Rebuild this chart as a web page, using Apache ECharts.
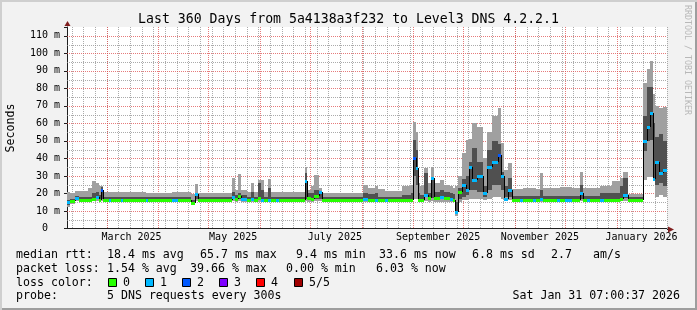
<!DOCTYPE html>
<html>
<head>
<meta charset="utf-8">
<script src="https://cdn.jsdelivr.net/npm/echarts@6/dist/echarts.min.js"></script>
<style>
  html, body { margin: 0; padding: 0; background: #f2f2f2; }
  #frame {
    position: relative; width: 697px; height: 310px; background: #f2f2f2;
    box-shadow: inset 2px 2px 0 #cfcfcf, inset -2px -2px 0 #9e9e9e;
  }
  #main { position: absolute; left: 0; top: 0; width: 697px; height: 310px; }
</style>
</head>
<body>
<div id="frame"><div id="main"></div></div>
<script>
// days since graph start (Feb 5 2025 07:00) where each sample bin begins
const binStart = [
  0, 1.8, 4.8, 7.2, 12.6, 15, 17.4, 19.2, 20.4, 21.6,
  25.2, 26.4, 32.4, 33.6, 47.4, 48.6, 63, 66.6, 74.4, 76.8,
  78.6, 99, 100.8, 102.6, 104.4, 108, 110.4, 112.2, 114.6, 116.4,
  118.2, 120.6, 122.4, 125.4, 127.2, 142.8, 144, 146.4, 148.2, 151.2,
  153, 177.6, 180.6, 184.8, 186.6, 190.8, 192.6, 201, 206.4, 207.6,
  209.4, 210.6, 211.8, 214.2, 216.6, 218.4, 220.2, 223.8, 226.2, 229.8,
  231.6, 232.8, 234.6, 237, 239.4, 241.2, 243, 246, 249.6, 252,
  255, 258.6, 260.4, 262.2, 264.6, 267, 271.8, 273.6, 279.6, 281.4,
  283.8, 285.6, 294, 295.8, 298.8, 303, 307.8, 309.6, 312, 313.8,
  319.8, 322.2, 327, 331.8, 333.6, 336.6, 345.6, 348, 349.8, 351.6,
  352.8, 355.2, 357.6
];
// smoke: fastest ping, 2nd, 4th, slowest (ms)
const smokeMin = [
  12.5, 14, 15.5, 15.4, 15.4, 15.6, 15.8, 15.4, 15.8, 15.4,
  15.4, 15.4, 15.4, 15.4, 15.4, 15.4, 15.4, 15.4, 13.8, 15.6,
  15.4, 15.6, 15.4, 15.6, 15.4, 15.4, 15.4, 15.4, 15.4, 15.4,
  15.4, 15.4, 15.4, 15.4, 15.4, 15.6, 15.4, 15.4, 15.6, 15.6,
  15.4, 15.4, 15.4, 15.4, 15.4, 15.4, 15.4, 15.4, 15.4, 17,
  17, 15.4, 15.4, 15.8, 15.4, 15.6, 15.4, 15.4, 15.4, 15.4,
  15.4, 7, 15, 16, 16, 17, 17, 17, 16, 17,
  18, 18, 17, 16, 16, 15.4, 15.4, 15.4, 15.4, 15.4,
  15.4, 15.4, 15.4, 15.4, 15.4, 15.4, 15.6, 15.4, 15.4, 15.4,
  15.4, 15.4, 15.4, 15.6, 15.8, 15.4, 27.7, 29.6, 29.6, 27,
  18, 19, 18
];
const smokeLow = [
  13.5, 15, 16.5, 16.6, 16.6, 16.8, 17, 16.6, 17, 16.6,
  16.6, 16.6, 16.6, 16.6, 16.6, 16.6, 16.6, 16.6, 14.5, 17,
  16.6, 17, 16.6, 17, 16.6, 16.6, 16.6, 16.6, 16.6, 16.6,
  16.6, 16.6, 16.6, 16.6, 16.6, 17, 16.6, 16.6, 17, 17,
  16.6, 16.6, 16.6, 16.6, 16.6, 16.6, 16.6, 16.6, 16.6, 30,
  25, 16.6, 16.6, 18, 16.6, 17.5, 16.6, 16.6, 16.6, 16.6,
  16.6, 8.5, 17, 18, 19, 22, 22, 21, 18, 22,
  25, 25, 22, 18, 18, 16.6, 16.6, 16.6, 16.6, 16.6,
  16.6, 16.6, 16.6, 16.6, 16.6, 16.6, 17, 16.6, 16.6, 16.6,
  16.6, 16.6, 16.6, 17, 17.5, 16.6, 44, 50, 50.5, 27.7,
  25, 26, 24
];
const smokeHigh = [
  16, 17, 18.5, 17.7, 18.2, 20, 21, 19, 23.5, 17.7,
  17.7, 17.7, 17.7, 17.7, 17.7, 17.7, 18, 17.7, 16.5, 20,
  17.7, 21, 19, 20.5, 19, 17.7, 21, 17.7, 26, 22,
  18.2, 23, 18.2, 17.7, 17.7, 31.5, 20.5, 20, 22, 21.5,
  17.7, 20.5, 19.5, 20, 18.2, 18.2, 18, 19, 20, 50.5,
  45, 20, 19, 31.5, 20, 29.6, 21, 22, 21, 20,
  19.5, 15, 23, 28, 30, 38, 46, 38, 24, 45,
  50, 48, 32, 24, 28.8, 18.5, 18.5, 18.5, 18.5, 18.5,
  22, 18.5, 18.5, 18.5, 18.5, 18.5, 25, 18.5, 18.5, 18.5,
  20, 20, 20.5, 24, 28.8, 17.7, 64, 81, 81, 60,
  52, 54, 50
];
const smokeMax = [
  21, 20.5, 21.5, 21.3, 23, 27, 26, 24, 24.5, 20.8,
  20.8, 20.6, 20.6, 20.7, 20.5, 20.5, 21, 20.6, 19.8, 25.3,
  20.5, 29, 22, 31, 22, 20.8, 26, 20.8, 27.7, 27.7,
  21, 28, 21, 20.8, 20.6, 35.3, 22, 24, 30.5, 23,
  20.5, 25, 23, 24, 22.5, 21.5, 21.5, 24.5, 25, 61,
  55, 26, 24, 34.4, 26, 35.3, 26, 27.5, 25, 24,
  23, 24, 30, 43, 50.5, 51, 60, 58, 40, 55,
  64, 68.6, 49, 33.5, 37.4, 22.5, 22.5, 23, 23, 22.5,
  31.5, 23, 23, 23.5, 23.5, 23, 32, 23, 23, 23,
  24, 24, 27, 29, 32.5, 19.8, 83, 91, 95.5, 77,
  70, 69, 69.5
];
const median = [
  15, 15.5, 17.5, 16.5, 16.5, 17, 18, 16.5, 22, 16.3,
  16.3, 16.3, 16.3, 16.3, 16.3, 16.3, 16.4, 16.3, 14.8, 19.5,
  16.3, 17.7, 17, 18.5, 17, 16.3, 16.8, 16.3, 17.5, 16.5,
  16.3, 16.5, 16.3, 16.3, 16.3, 27, 17.5, 17, 18.5, 21,
  16.3, 16.8, 16.3, 16.5, 16.3, 16.3, 16.3, 16.3, 16.5, 40,
  34.4, 16.5, 16.5, 19.2, 17.3, 28.7, 17.3, 18, 17.3, 17,
  16.5, 9.5, 21, 24.9, 22, 35.3, 27.7, 30, 20, 35,
  38, 42, 30, 17, 22, 16.5, 16.5, 16.5, 16.5, 16.5,
  17, 16.5, 16.5, 16.5, 16.5, 16.5, 20, 16.5, 16.5, 16.5,
  16.3, 16.3, 16.5, 17, 19, 16.3, 50, 58, 65.7, 28,
  38, 31.6, 33.6
];
// lost pings out of 5
const loss = [
  1, 0, 1, 0, 0, 0, 1, 0, 2, 0,
  1, 0, 1, 0, 1, 0, 1, 0, 0, 1,
  0, 1, 0, 0, 1, 0, 1, 0, 0, 1,
  0, 1, 0, 1, 0, 1, 0, 0, 0, 1,
  0, 1, 0, 1, 0, 1, 0, 0, 0, 2,
  1, 0, 0, 1, 0, 1, 0, 1, 0, 1,
  0, 1, 0, 1, 1, 1, 1, 1, 1, 1,
  1, 2, 1, 1, 1, 0, 1, 0, 1, 0,
  1, 0, 1, 0, 1, 0, 1, 0, 1, 0,
  1, 0, 0, 0, 1, 0, 1, 1, 1, 1,
  1, 1, 1
];

const lossNames = ['0', '1', '2', '3', '4', '5/5'];
const lossColors = ['#26ff00', '#00b8ff', '#0059ff', '#7e00ff', '#ff0000', '#a00000'];
const monthLabels = ['March 2025', 'May 2025', 'July 2025', 'September 2025', 'November 2025', 'January 2026'];

const TOTAL_DAYS = 360;
const Y_MAX = 115;
const DAY = 864e5;
const t0 = Date.UTC(2025, 1, 5, 7);
const binEnd = binStart.slice(1).concat([TOTAL_DAYS]);

// grid positions
const monthDays = [];
for (let m = 2; m <= 12; m++) monthDays.push((Date.UTC(2025, m, 1) - t0) / DAY);
const labelDays = monthLabels.map((s, i) => (Date.UTC(2025, 2 + i * 2, 1) - t0) / DAY + 15);
const weekDays = [];
for (let t = Date.UTC(2025, 1, 8); t < t0 + TOTAL_DAYS * DAY; t += 7 * DAY) weekDays.push((t - t0) / DAY);
const minorLevels = [];
for (let v = 5; v < Y_MAX; v += 10) minorLevels.push(v);
const majorLevels = [];
for (let v = 10; v < Y_MAX; v += 10) majorLevels.push(v);

const FONT = '"DejaVu Sans Mono", monospace';
const MINOR_GRID = 'rgba(143,143,143,0.75)';
const MAJOR_GRID = 'rgba(222,79,79,0.75)';

const chart = echarts.init(document.getElementById('main'), null, { renderer: 'canvas' });

function band(color) {
  return function (params, api) {
    const a = api.coord([api.value(0), api.value(3)]);
    const b = api.coord([api.value(1), api.value(2)]);
    const x0 = Math.round(a[0]), x1 = Math.round(b[0]);
    const y0 = Math.round(a[1]), y1 = Math.round(b[1]);
    return {
      type: 'rect',
      shape: { x: x0, y: y0, width: x1 - x0, height: Math.max(1, y1 - y0) },
      style: { fill: color }
    };
  };
}

function vline(color) {
  return function (params, api) {
    const p = api.coord([api.value(0), 0]);
    const cs = params.coordSys;
    const x = Math.round(p[0]) + 0.5;
    return {
      type: 'line',
      shape: { x1: x, y1: cs.y, x2: x, y2: cs.y + cs.height },
      style: { stroke: color, lineWidth: 1, lineDash: [1, 1] }
    };
  };
}

function hline(color) {
  return function (params, api) {
    const p = api.coord([0, api.value(1)]);
    const cs = params.coordSys;
    const y = Math.round(p[1]) + 0.5;
    return {
      type: 'line',
      shape: { x1: cs.x, y1: y, x2: cs.x + cs.width, y2: y },
      style: { stroke: color, lineWidth: 1, lineDash: [1, 1] }
    };
  };
}

function medianItem(params, api) {
  const a = api.coord([api.value(0), api.value(2)]);
  const b = api.coord([api.value(1), api.value(2)]);
  const x0 = Math.round(a[0]), x1 = Math.round(b[0]);
  const y = Math.round(a[1]);
  const children = [];
  const prev = api.value(3);
  if (!isNaN(prev) && Math.abs(prev - api.value(2)) > 1.2) {
    const p = api.coord([api.value(0), prev]);
    children.push({
      type: 'line',
      shape: { x1: x0 + 0.5, y1: Math.round(p[1]), x2: x0 + 0.5, y2: y },
      style: { stroke: '#000', lineWidth: 1 }
    });
  }
  children.push({
    type: 'rect',
    shape: { x: x0, y: y - 1, width: Math.max(1, x1 - x0), height: 3 },
    style: { fill: lossColors[api.value(4)] }
  });
  return { type: 'group', children: children };
}

const lightData = binStart.map((d, i) => [d, binEnd[i], smokeMin[i], smokeMax[i]]);
const darkData = binStart.map((d, i) => [d, binEnd[i], smokeLow[i], smokeHigh[i]]);
const medianData = binStart.map((d, i) => [d, binEnd[i], median[i], i > 0 ? median[i - 1] : NaN, loss[i]]);

const legendRows = [
  { y: 255, items: [['median rtt:', 16], ['18.4 ms avg', 107], ['65.7 ms max', 200], ['9.4 ms min', 296],
                    ['33.6 ms now', 379], ['6.8 ms sd', 472], ['2.7', 551], ['am/s', 593]] },
  { y: 268.5, items: [['packet loss:', 16], ['1.54 % avg', 107], ['39.66 % max', 190], ['0.00 % min', 286],
                      ['6.03 % now', 376]] },
  { y: 282.5, items: [['loss color:', 16]] },
  { y: 296, items: [['probe:', 16], ['5 DNS requests every 300s', 107]] }
];

function txt(text, x, y, opts) {
  opts = opts || {};
  return {
    type: 'text', x: x, y: y, rotation: opts.rotation || 0, silent: true, z: 100,
    style: {
      text: text, fill: opts.color || '#000',
      font: (opts.size || 11.6) + 'px ' + FONT,
      textAlign: opts.align || 'left', textVerticalAlign: 'middle',
      align: opts.align || 'left', verticalAlign: 'middle'
    }
  };
}

const graphics = [];
graphics.push(txt('Last 360 Days from 5a4138a3f232 to Level3 DNS 4.2.2.1', 348.5, 19.5, { size: 13.2, align: 'center' }));
graphics.push(txt('Seconds', 10.5, 128, { rotation: Math.PI / 2, align: 'center' }));
graphics.push(txt('RRDTOOL / TOBI OETIKER', 687, 60, { rotation: -Math.PI / 2, align: 'center', size: 8.3, color: '#b8b8b8' }));
legendRows.forEach(row => row.items.forEach(it => graphics.push(txt(it[0], it[1], row.y))));
graphics.push(txt('Sat Jan 31 07:00:37 2026', 680, 296, { align: 'right' }));
lossNames.forEach((name, i) => {
  const x = 108 + i * 37.1;
  graphics.push({
    type: 'rect', silent: true, z: 100,
    shape: { x: Math.round(x) + 0.5, y: 278.5, width: 8, height: 8 },
    style: { fill: lossColors[i], stroke: '#000', lineWidth: 1 }
  });
  graphics.push(txt(name, Math.round(x) + 15, 282.5));
});

chart.setOption({
  animation: false,
  backgroundColor: 'transparent',
  grid: { left: 67, right: 30, top: 27, bottom: 81.5, show: true, backgroundColor: '#ffffff', borderWidth: 0 },
  xAxis: {
    type: 'value', min: 0, max: TOTAL_DAYS,
    axisLine: { show: true, onZero: false, lineStyle: { color: '#1f1f1f', width: 1 } },
    axisTick: { show: false },
    splitLine: { show: false },
    axisLabel: {
      customValues: labelDays, margin: 4, color: '#000', fontFamily: FONT, fontSize: 10,
      formatter: v => {
        let best = 0;
        labelDays.forEach((d, i) => { if (Math.abs(d - v) < Math.abs(labelDays[best] - v)) best = i; });
        return monthLabels[best];
      }
    }
  },
  yAxis: {
    type: 'value', min: 0, max: Y_MAX, interval: 10, position: 'left',
    axisLine: { show: true, lineStyle: { color: '#1f1f1f', width: 1 } },
    axisTick: { show: true, length: 3, lineStyle: { color: '#1f1f1f' } },
    axisLabel: {
      margin: 7, color: '#000', fontFamily: FONT, fontSize: 10,
      formatter: v => (v === 0 ? '0  ' : (v % 10 === 0 ? v + ' m' : ''))
    },
    splitLine: { show: false }
  },
  series: [
    { type: 'custom', name: 'minor h', z: 1, silent: true, renderItem: hline(MINOR_GRID),
      data: minorLevels.map(v => [0, v]), encode: { x: 0, y: 1 } },
    { type: 'custom', name: 'weeks', z: 1, silent: true, renderItem: vline(MINOR_GRID),
      data: weekDays.map(d => [d, 0]), encode: { x: 0, y: 1 } },
    { type: 'custom', name: 'major h', z: 1, silent: true, renderItem: hline(MAJOR_GRID),
      data: majorLevels.map(v => [0, v]), encode: { x: 0, y: 1 } },
    { type: 'custom', name: 'months', z: 1, silent: true, renderItem: vline(MAJOR_GRID),
      data: monthDays.map(d => [d, 0]), encode: { x: 0, y: 1 } },
    { type: 'custom', name: 'smoke outer', z: 2, silent: true, renderItem: band('#a0a0a0'),
      data: lightData, encode: { x: [0, 1], y: [2, 3] } },
    { type: 'custom', name: 'smoke inner', z: 3, silent: true, renderItem: band('#505050'),
      data: darkData, encode: { x: [0, 1], y: [2, 3] } },
    { type: 'custom', name: 'median rtt', z: 4, silent: true, renderItem: medianItem,
      data: medianData, encode: { x: [0, 1], y: 2 } }
  ],
  graphic: graphics
});

// axis arrows, placed from the axes' own scale
const o = chart.convertToPixel({ gridIndex: 0 }, [0, 0]);
const tr = chart.convertToPixel({ gridIndex: 0 }, [TOTAL_DAYS, Y_MAX]);
const ox = Math.round(o[0]) + 0.5, oy = Math.round(o[1]) + 0.5;
chart.setOption({
  graphic: graphics.concat([
    { type: 'line', silent: true, z: 90, shape: { x1: tr[0], y1: oy, x2: tr[0] + 2, y2: oy }, style: { stroke: '#1f1f1f' } },
    { type: 'polygon', silent: true, z: 90, shape: { points: [[tr[0] + 1, oy - 3], [tr[0] + 7, oy], [tr[0] + 1, oy + 3]] }, style: { fill: '#801f1f' } },
    { type: 'polygon', silent: true, z: 90, shape: { points: [[ox - 3, tr[1] - 1], [ox, tr[1] - 6], [ox + 3, tr[1] - 1]] }, style: { fill: '#801f1f' } }
  ])
});
</script>
</body>
</html>
